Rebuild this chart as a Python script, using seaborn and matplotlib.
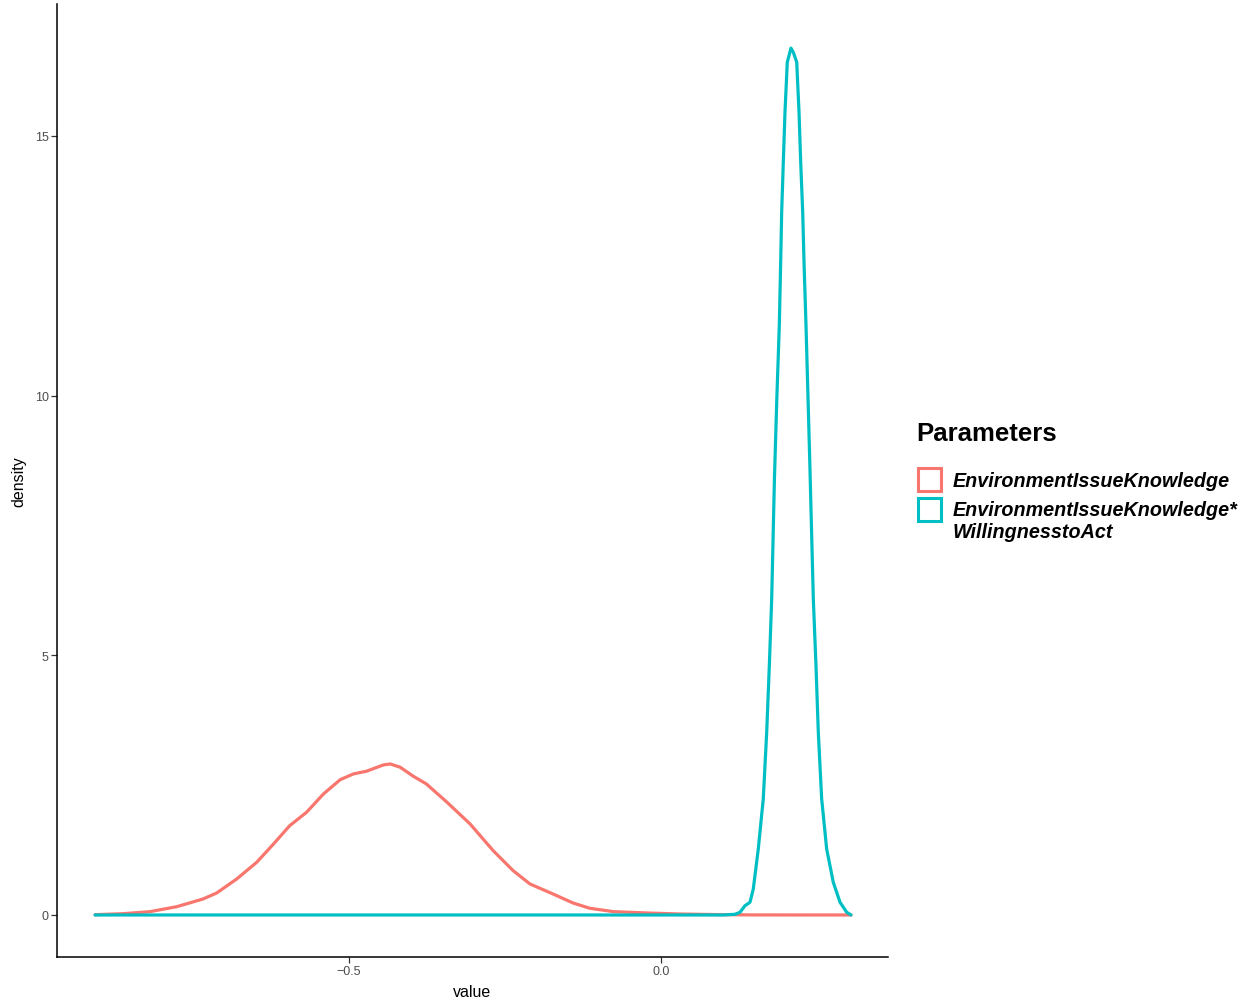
import numpy as np
import pandas as pd
import matplotlib
matplotlib.use("Agg")
import matplotlib.pyplot as plt
from matplotlib.patches import Patch, Rectangle
from matplotlib.legend_handler import HandlerPatch
import seaborn as sns

# Density curves of the posterior draws for the two model parameters
knowledge_x = [-0.907, -0.862, -0.819, -0.776, -0.734, -0.712, -0.680, -0.648,
               -0.621, -0.595, -0.568, -0.541, -0.514, -0.493, -0.472, -0.445,
               -0.434, -0.418, -0.397, -0.376, -0.343, -0.306, -0.269, -0.237,
               -0.210, -0.173, -0.141, -0.114, -0.076, -0.023, 0.030, 0.100,
               0.150, 0.3045]
knowledge_y = [0.006, 0.025, 0.064, 0.160, 0.308, 0.424, 0.693, 1.014,
               1.367, 1.720, 1.978, 2.330, 2.606, 2.716, 2.768, 2.889,
               2.908, 2.845, 2.671, 2.523, 2.171, 1.753, 1.239, 0.854,
               0.597, 0.404, 0.231, 0.129, 0.064, 0.039, 0.019, 0.006,
               0.001, 0.0]

interaction_x = [-0.907, -0.500, 0.000, 0.100, 0.1186, 0.1266, 0.1346, 0.1426,
                 0.1479, 0.1559, 0.1639, 0.1694, 0.1736, 0.1774, 0.1818, 0.1855,
                 0.1896, 0.1918, 0.1934, 0.1960, 0.1987, 0.2024, 0.2083, 0.2121,
                 0.2175, 0.2212, 0.2239, 0.2271, 0.2292, 0.2324, 0.2385, 0.2441,
                 0.2484, 0.2521, 0.2575, 0.2655, 0.2761, 0.2869, 0.2976, 0.3045]
interaction_y = [0.0, 0.0, 0.0, 0.0, 0.013, 0.052, 0.179, 0.245,
                 0.501, 1.271, 2.234, 3.518, 4.80, 6.085, 8.40, 9.90,
                 11.35, 12.57, 13.53, 14.49, 15.46, 16.42, 16.69, 16.61,
                 16.42, 15.46, 14.49, 13.53, 12.57, 11.35, 8.70, 6.085,
                 4.80, 3.518, 2.234, 1.271, 0.630, 0.245, 0.052, 0.0]

series_names = ["EnvironmentIssueKnowledge",
                "EnvironmentIssueKnowledge*\nWillingnesstoAct"]
series_colors = ["#F8766D", "#00BFC4"]

x_ticks = [-0.5, 0.0]
x_tick_labels = ["\u22120.5", "0.0"]
y_ticks = [0, 5, 10, 15]

df = pd.concat([
    pd.DataFrame({"value": knowledge_x, "density": knowledge_y,
                  "Parameters": series_names[0]}),
    pd.DataFrame({"value": interaction_x, "density": interaction_y,
                  "Parameters": series_names[1]}),
], ignore_index=True)

sns.set_theme(style="ticks")
plt.rcParams["font.family"] = ["Liberation Sans", "DejaVu Sans"]

fig = plt.figure(figsize=(12.5, 10.03), dpi=100)
ax = fig.add_axes([57 / 1250, 1 - 958 / 1003, (888 - 57) / 1250, (958 - 5) / 1003])

sns.lineplot(data=df, x="value", y="density", hue="Parameters",
             palette=dict(zip(series_names, series_colors)),
             linewidth=2.3, ax=ax, legend=False, sort=False,
             estimator=None)

ax.set_xlim(-0.968, 0.3638)
ax.set_ylim(-0.809, 17.54)
ax.set_xticks(x_ticks)
ax.set_xticklabels(x_tick_labels)
ax.set_yticks(y_ticks)

for side in ["top", "right"]:
    ax.spines[side].set_visible(False)
for side in ["left", "bottom"]:
    ax.spines[side].set_color("black")
    ax.spines[side].set_linewidth(1.1)

ax.tick_params(axis="both", colors="#333333", labelcolor="#4D4D4D",
               labelsize=9, length=4, width=0.9, pad=2)
ax.set_xlabel("value", fontsize=11.5, color="black", labelpad=5)
ax.set_ylabel("density", fontsize=11.5, color="black", labelpad=6)


class TopAlignedBox(HandlerPatch):
    """Key box raised so it sits beside the first line of a wrapped label."""

    def __init__(self, dy=0.0, **kw):
        super().__init__(**kw)
        self.dy = dy

    def create_artists(self, legend, orig_handle, xdescent, ydescent,
                       width, height, fontsize, trans):
        p = Rectangle((-xdescent, -ydescent + self.dy), width, height)
        self.update_prop(p, orig_handle, legend)
        p.set_transform(trans)
        return [p]


# Legend: title set separately, outlined key boxes
fig.text(916 / 1250, 1 - 434 / 1003, "Parameters", fontsize=18.5,
         fontweight="bold", color="black", ha="left", va="center")

handles = [Patch(facecolor="white", edgecolor=c, linewidth=2.2) for c in series_colors]
leg = fig.legend(handles, series_names,
                 loc="upper left", bbox_to_anchor=(918 / 1250, 1 - 469 / 1003),
                 frameon=False, borderpad=0, borderaxespad=0,
                 handlelength=1.17, handleheight=1.38,
                 handletextpad=0.58, labelspacing=0.5,
                 handler_map={handles[0]: TopAlignedBox(0.0),
                              handles[1]: TopAlignedBox(8.5)},
                 prop={"size": 14.2, "weight": "bold", "style": "italic"})
for t in leg.get_texts():
    t.set_color("black")
    t.set_linespacing(1.16)

fig.savefig("out.png", dpi=100)
